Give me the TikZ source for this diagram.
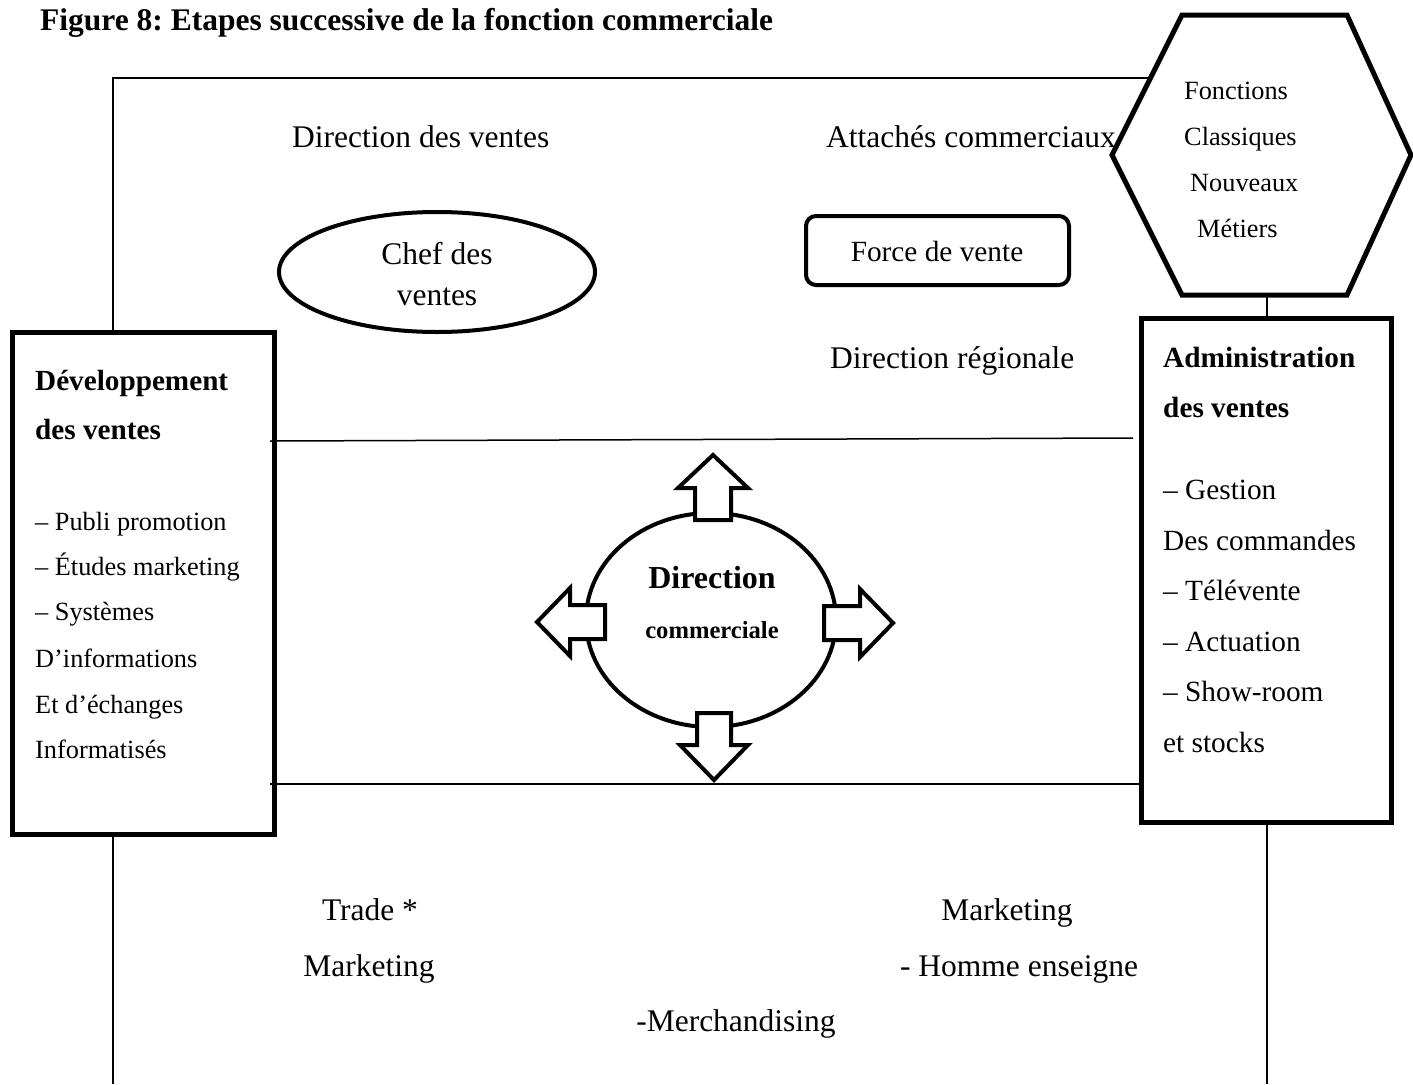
\documentclass[tikz,border=0pt]{standalone}
\usepackage{fontspec}
\setmainfont{Liberation Serif}
\usetikzlibrary{shapes.geometric}
\frenchspacing
\begin{document}
\begin{tikzpicture}[x=1pt,y=-1pt,
  thinline/.style={line width=1.5pt},
  boxline/.style={draw, line width=5pt, line join=miter},
  lbl/.style={inner sep=0pt, font=\fontsize{31.5}{38}\selectfont},
  lblbox/.style={inner sep=0pt, anchor=base west, font=\fontsize{29.3}{36}\selectfont},
  lblsmall/.style={inner sep=0pt, anchor=base west, font=\fontsize{26.3}{32}\selectfont},
  bigarrow/.style={draw, fill=white, line width=4pt, line join=miter}
]
\useasboundingbox (0,0) rectangle (1413,1084);

% title
\node[lbl, anchor=base west] (title) at (40,30) {\bfseries Figure 8: Etapes successive de la fonction commerciale};

% hexagon
\coordinate (h1) at (1182,15);
\coordinate (h2) at (1347,15);
\coordinate (h3) at (1411,155);
\coordinate (h4) at (1347,295);
\coordinate (h5) at (1182,295);
\coordinate (h6) at (1112,155);
\draw[line width=5pt, line join=miter] (h1) -- (h2) -- (h3) -- (h4) -- (h5) -- (h6) -- cycle;
\node[lblsmall] (hexa) at (1184,99) {Fonctions};
\node[lblsmall] (hexb) at (1184,145) {Classiques};
\node[lblsmall] (hexc) at (1190,191) {Nouveaux};
\node[lblsmall] (hexd) at (1197,237) {Métiers};

% side boxes
\node[boxline, minimum width=262pt, minimum height=502pt, inner sep=0pt] (dev) at (143,583) {};
\node[boxline, minimum width=250pt, minimum height=504pt, inner sep=0pt] (adm) at (1266,570) {};

% frame lines
\coordinate (ftl) at (113,78);
\coordinate (ftr) at (1150.5,78);
\coordinate (fbl) at (113,1084);
\coordinate (fbr) at (1267,1084);
\draw[thinline] (dev.north -| ftl) -- (ftl) -- (ftr);
\draw[thinline] (dev.south -| ftl) -- (fbl);
\draw[thinline] (h4 -| fbr) -- (adm.north -| fbr);
\draw[thinline] (adm.south -| fbr) -- (fbr);
\coordinate (ul) at (270,441);
\coordinate (ur) at (1133,438);
\coordinate (ll) at (270,784);
\coordinate (lr) at (1141,784);
\draw[thinline] (ul) -- (ur);
\draw[thinline] (ll) -- (lr);

% left box text
\node[lblbox, font=\fontsize{29.2}{36}\selectfont\bfseries] (deva) at (35,390) {Développement};
\node[lblbox, font=\fontsize{29.2}{36}\selectfont\bfseries] (devb) at (35,439) {des ventes};
\node[lblsmall] (dev1) at (35,530) {– Publi promotion};
\node[lblsmall] (dev2) at (35,575) {– Études marketing};
\node[lblsmall] (dev3) at (35,620) {– Systèmes};
\node[lblsmall] (dev4) at (35,667) {D’informations};
\node[lblsmall] (dev5) at (35,713) {Et d’échanges};
\node[lblsmall] (dev6) at (35,758) {Informatisés};

% right box text
\node[lblbox, font=\fontsize{29.3}{36}\selectfont\bfseries] (adma) at (1163,367) {Administration};
\node[lblbox, font=\fontsize{29.3}{36}\selectfont\bfseries] (admb) at (1163,417) {des ventes};
\node[lblbox] (adm1) at (1163,499) {– Gestion};
\node[lblbox] (adm2) at (1163,550) {Des commandes};
\node[lblbox] (adm3) at (1163,600) {– Télévente};
\node[lblbox] (adm4) at (1163,651) {– Actuation};
\node[lblbox] (adm5) at (1163,701) {– Show-room};
\node[lblbox] (adm6) at (1163,752) {et stocks};

% top area
\node[lbl, anchor=base west] (dirv) at (292,147) {Direction des ventes};
\node[lbl, anchor=base west] (att) at (826,147) {Attachés commerciaux};
\node[draw, ellipse, line width=4pt, minimum width=316pt, minimum height=120pt, inner sep=0pt] (chef) at (437,272) {};
\node[lbl, anchor=base] (chefa) at (437,264) {Chef des};
\node[lbl, anchor=base] (chefb) at (437,305) {ventes};
\node[draw, rounded corners=10pt, line width=4pt, minimum width=263pt, minimum height=69pt, inner sep=0pt] (force) at (937.5,250.5) {};
\node[lblbox, anchor=base] (forcet) at (937,261) {Force de vente};
\node[lbl, anchor=base west] (dreg) at (830,368) {Direction régionale};

% central ellipse
\node[draw, ellipse, line width=4pt, minimum width=250pt, minimum height=214pt, inner sep=0pt] (dc) at (711,620) {};
\draw[bigarrow] (695,520) -- (695,488) -- (678,488) -- (713,455) -- (748,488) -- (731,488) -- (731,520) -- cycle;
\draw[bigarrow] (697,713) -- (697,745) -- (680,745) -- (714,780) -- (748,745) -- (731,745) -- (731,713) -- cycle;
\draw[bigarrow] (605,605) -- (570,605) -- (570,588) -- (537,622) -- (570,656) -- (570,639) -- (605,639) -- cycle;
\draw[bigarrow] (824,606) -- (860,606) -- (860,589) -- (893,623) -- (860,657) -- (860,640) -- (824,640) -- cycle;
\node[lbl, anchor=base, font=\fontsize{32}{38}\selectfont\bfseries] (dca) at (712,588) {Direction};
\node[lbl, anchor=base, font=\fontsize{24.6}{30}\selectfont\bfseries] (dcb) at (712,638) {commerciale};

% bottom area
\node[lbl, anchor=base] (trade) at (370,920) {Trade *};
\node[lbl, anchor=base] (mkl) at (369,976) {Marketing};
\node[lbl, anchor=base] (mkr) at (1007,920) {Marketing};
\node[lbl, anchor=base] (homme) at (1019,976) {- Homme enseigne};
\node[lbl, anchor=base] (merch) at (736,1031) {-Merchandising};
\end{tikzpicture}
\end{document}
